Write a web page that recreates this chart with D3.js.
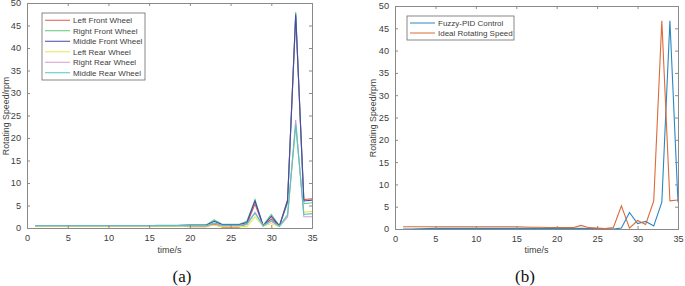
<!DOCTYPE html>
<html><head><meta charset="utf-8">
<script src="https://cdn.jsdelivr.net/npm/d3@7"></script>
<style>body{margin:0;background:#fff}svg{display:block}</style>
</head><body><svg id="c" width="685" height="286"></svg>
<script>
const time = d3.range(1, 36);
const xTicks = [0,5,10,15,20,25,30,35];
const yTicks = [0,5,10,15,20,25,30,35,40,45,50];

// Panel (a)
const leftFront  = [0.5,0.5,0.5,0.5,0.5,0.5,0.5,0.5,0.5,0.5,0.5,0.5,0.5,0.5,0.5,0.5,0.5,0.5,0.5,0.3,0.3,0.3,0.9,0.2,0.2,0.2,0.9,5.3,0.5,2.0,0.5,6.3,47.0,6.3,6.5];
const rightFront = [0.5,0.5,0.5,0.5,0.5,0.5,0.5,0.5,0.5,0.5,0.5,0.5,0.5,0.5,0.5,0.6,0.6,0.6,0.6,0.7,0.7,0.7,1.8,0.8,0.8,0.8,1.5,6.3,0.6,3.0,0.5,5.5,48.0,5.4,5.6];
const middleFront= [0.5,0.5,0.5,0.5,0.5,0.5,0.5,0.5,0.5,0.5,0.5,0.5,0.5,0.5,0.5,0.5,0.5,0.5,0.6,0.6,0.6,0.6,1.5,0.7,0.7,0.7,1.2,6.0,0.5,2.6,0.4,6.0,47.5,6.0,6.2];
const leftRear   = [0.4,0.4,0.4,0.4,0.4,0.4,0.4,0.4,0.4,0.4,0.4,0.4,0.4,0.4,0.4,0.4,0.4,0.4,0.4,0.4,0.4,0.4,0.6,0.3,0.3,0.3,0.3,2.5,0.4,1.0,0.3,2.5,22.5,3.5,3.7];
const rightRear  = [0.5,0.5,0.5,0.5,0.5,0.5,0.5,0.5,0.5,0.5,0.5,0.5,0.5,0.5,0.5,0.5,0.5,0.5,0.5,0.5,0.5,0.5,1.0,0.5,0.5,0.5,0.8,3.5,0.5,1.5,0.4,2.5,24.0,2.5,2.5];
const middleRear = [0.5,0.5,0.5,0.5,0.5,0.5,0.5,0.5,0.5,0.5,0.5,0.5,0.5,0.5,0.5,0.5,0.5,0.5,0.5,0.5,0.5,0.5,1.1,0.6,0.6,0.6,0.9,3.3,0.5,1.6,0.4,3.0,23.0,3.0,3.2];
const namesA = ["Left Front Wheel","Right Front Wheel","Middle Front Wheel","Left Rear Wheel","Right Rear Wheel","Middle Rear Wheel"];
const colorsA = ["#e05a5a","#5cc87a","#4646b4","#e6e64a","#d898d8","#4cc8c8"];
const seriesA = [leftFront,rightFront,middleFront,leftRear,rightRear,middleRear];

// Panel (b)
const fuzzyPID = [0.0,0.0,0.05,0.1,0.15,0.15,0.15,0.15,0.15,0.15,0.15,0.15,0.15,0.15,0.15,0.15,0.15,0.15,0.15,0.15,0.15,0.15,0.15,0.1,0.1,0.1,0.0,0.2,3.7,1.2,1.7,0.7,6.0,46.7,6.0];
const idealSpeed = [0.5,0.5,0.5,0.5,0.5,0.5,0.5,0.5,0.5,0.5,0.5,0.5,0.5,0.5,0.5,0.45,0.4,0.4,0.35,0.35,0.3,0.3,0.8,0.3,0.2,0.1,0.3,5.2,0.2,1.9,1.0,6.3,46.7,6.3,6.5];
const namesB = ["Fuzzy-PID Control","Ideal Rotating Speed"];
const colorsB = ["#2a87c2","#dc6a3a"];
const seriesB = [fuzzyPID, idealSpeed];

const svg = d3.select("#c");
const font = "'Liberation Sans', Arial, sans-serif";

function panel(cfg){
  const g = svg.append("g");
  const x = d3.scaleLinear().domain([0,35]).range([cfg.x0,cfg.x1]);
  const y = d3.scaleLinear().domain([0,50]).range([cfg.y0,cfg.y1]);
  const line = d3.line().x((d,i)=>x(time[i])).y(d=>y(d));
  const clip = "clip"+cfg.label;
  svg.append("clipPath").attr("id",clip).append("rect")
    .attr("x",cfg.x0).attr("y",cfg.y1).attr("width",cfg.x1-cfg.x0).attr("height",cfg.y0-cfg.y1);
  cfg.series.forEach((s,k)=>{
    g.append("path").datum(s).attr("d",line).attr("fill","none")
      .attr("stroke",cfg.colors[k]).attr("stroke-width",1.1).attr("clip-path",`url(#${clip})`);
  });
  const axB = d3.axisBottom(x).tickValues(xTicks).tickSize(-3).tickPadding(6);
  const axT = d3.axisTop(x).tickValues(xTicks).tickSize(-3).tickFormat("");
  const axL = d3.axisLeft(y).tickValues(yTicks).tickSize(-3).tickPadding(6);
  const axR = d3.axisRight(y).tickValues(yTicks).tickSize(-3).tickFormat("");
  const sty = a => {a.selectAll("path,line").attr("stroke","#8a8a8a"); a.selectAll("text").attr("fill","#404040").style("font-family",font).style("font-size","9.2px");};
  g.append("g").attr("transform",`translate(0,${cfg.y0})`).call(axB).call(sty);
  g.append("g").attr("transform",`translate(0,${cfg.y1})`).call(axT).call(sty);
  g.append("g").attr("transform",`translate(${cfg.x0},0)`).call(axL).call(sty);
  g.append("g").attr("transform",`translate(${cfg.x1},0)`).call(axR).call(sty);
  g.selectAll(".domain").attr("stroke","#8a8a8a");
  g.append("text").attr("x",(cfg.x0+cfg.x1)/2).attr("y",253).attr("text-anchor","middle")
    .style("font-family",font).style("font-size","9px").attr("fill","#404040").text("time/s");
  g.append("text").attr("transform",`translate(${cfg.ylx},${cfg.ylc}) rotate(-90)`)
    .attr("text-anchor","middle").attr("dy","0.35em")
    .style("font-family",font).style("font-size","8.8px").attr("fill","#404040").text("Rotating Speed/rpm");
  g.append("text").attr("x",cfg.capx).attr("y",282).attr("text-anchor","middle")
    .style("font-family","'Liberation Serif', 'Times New Roman', serif").style("font-size","17px").attr("fill","#111").text(`(${cfg.label})`);
  const L = cfg.legend;
  g.append("rect").attr("x",L.x).attr("y",L.y).attr("width",L.w).attr("height",L.rowH*cfg.names.length+4)
    .attr("fill","#fff").attr("stroke","#6a6a6a").attr("stroke-width",0.8);
  cfg.names.forEach((n,k)=>{
    const yy = L.y+2+L.rowH*(k+0.5);
    g.append("line").attr("x1",L.x+3).attr("x2",L.x+28).attr("y1",yy).attr("y2",yy).attr("stroke",cfg.colors[k]).attr("stroke-width",1);
    g.append("text").attr("x",L.x+31).attr("y",yy).attr("dy","0.35em")
      .style("font-family",font).style("font-size","8px").attr("fill","#404040").text(n);
  });
}

panel({x0:27,x1:312,y0:228,y1:3,ylx:6,ylc:116,capx:182,label:"a",series:seriesA,colors:colorsA,names:namesA,
  legend:{x:42,y:13,w:103,rowH:10.5}});
panel({x0:395,x1:678,y0:229,y1:6,ylx:373,ylc:118,capx:525,label:"b",series:seriesB,colors:colorsB,names:namesB,
  legend:{x:407,y:16,w:107,rowH:10}});
</script></body></html>
